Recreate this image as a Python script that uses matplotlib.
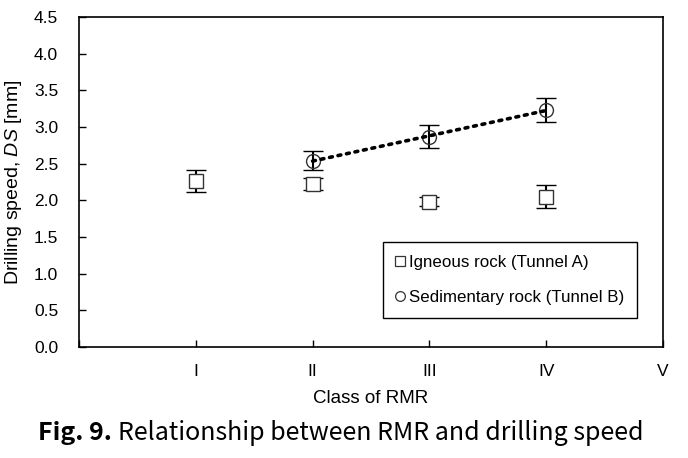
import numpy as np
import matplotlib
matplotlib.use("Agg")
import matplotlib.pyplot as plt
from matplotlib.lines import Line2D

plt.rcParams['font.family'] = ['Liberation Sans', 'DejaVu Sans']
plt.rcParams['mathtext.fontset'] = 'custom'
plt.rcParams['mathtext.it'] = 'Liberation Sans:italic'
plt.rcParams['mathtext.rm'] = 'Liberation Sans'

# Data
class_labels = ["", "I", "II", "III", "IV", "V"]
igneous_x = [1, 2, 3, 4]
igneous_y = [2.26, 2.22, 1.98, 2.05]
igneous_err = [0.15, 0.08, 0.06, 0.16]
sed_x = [2, 3, 4]
sed_y = [2.54, 2.87, 3.23]
sed_err = [0.13, 0.16, 0.16]

fig = plt.figure(figsize=(6.88, 4.58), dpi=100)
ax = fig.add_axes([0.1148, 0.2424, 0.8489, 0.7205])

ax.errorbar(igneous_x, igneous_y, yerr=igneous_err, fmt='s', mfc='white', mec='#333333',
            mew=1.0, ms=10.5, ecolor='black', elinewidth=1.5, capsize=7.5, capthick=1.5,
            zorder=3)
ax.errorbar(sed_x, sed_y, yerr=sed_err, fmt='o', mfc='none', mec='#333333',
            mew=1.0, ms=10, ecolor='black', elinewidth=1.5, capsize=7.5, capthick=1.5,
            zorder=3)

# linear trend line for sedimentary rock
coef = np.polyfit(sed_x, sed_y, 1)
xt = np.array([sed_x[0], sed_x[-1]])
ax.plot(xt, np.polyval(coef, xt), linestyle=(0, (0.8, 1.6)), color='black', lw=2.6,
        dash_capstyle='round', zorder=4)

ax.set_xlim(0, 5)
ax.set_ylim(0, 4.5)
ax.set_xticks(range(6))
ax.set_xticklabels(class_labels, fontsize=12.5)
ax.set_yticks(np.arange(0, 4.51, 0.5))
ax.set_yticklabels([f"{v:.1f}" for v in np.arange(0, 4.51, 0.5)], fontsize=12.5)
ax.tick_params(axis='x', direction='in', length=5, width=1, pad=12)
ax.tick_params(axis='y', direction='in', length=5, width=1, pad=15)
for s in ax.spines.values():
    s.set_linewidth(1.2)

ax.set_xlabel("Class of RMR", fontsize=13.5, labelpad=8)
ax.set_ylabel("Drilling speed, $\\it{DS}$ [mm]", fontsize=14, labelpad=7)

handles = [
    Line2D([], [], marker='s', ls='none', mfc='white', mec='#333333', ms=7, mew=0.9),
    Line2D([], [], marker='o', ls='none', mfc='white', mec='#333333', ms=7, mew=0.9),
]
leg = ax.legend(handles, ["Igneous rock (Tunnel A)", "Sedimentary rock (Tunnel B)"],
                loc='lower right', bbox_to_anchor=(0.955, 0.088), fontsize=12.2,
                frameon=True, fancybox=False, edgecolor='black', framealpha=1,
                handlelength=0.5, handletextpad=0.25, labelspacing=1.2,
                borderpad=0.75, borderaxespad=0)
leg.get_frame().set_linewidth(1.0)

cap_family = ['Noto Sans CJK KR', 'DejaVu Sans']
t1 = fig.text(38 / 688, 0.040, "Fig. 9.", fontsize=18, fontweight='bold',
              family=cap_family, ha='left', va='baseline')
fig.canvas.draw()
bb = t1.get_window_extent()
fig.text(bb.x1 / fig.bbox.width + 0.009, 0.040, "Relationship between RMR and drilling speed",
         fontsize=18, family=cap_family, ha='left', va='baseline')

fig.savefig("out.png", dpi=100)
